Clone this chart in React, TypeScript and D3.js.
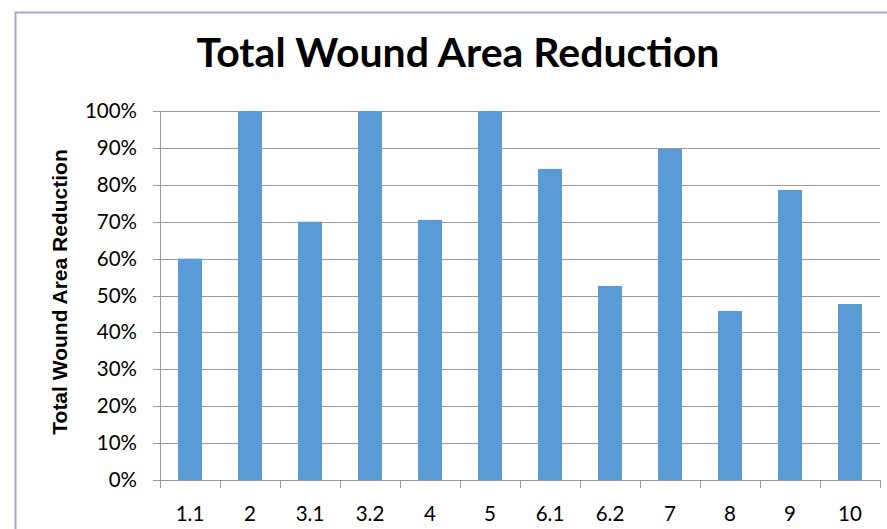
import React from "react";
import * as d3 from "d3";

const categories = ["1.1", "2", "3.1", "3.2", "4", "5", "6.1", "6.2", "7", "8", "9", "10"];
const values = [0.6, 1.0, 0.7, 1.0, 0.705, 1.0, 0.843, 0.526, 0.897, 0.458, 0.786, 0.477];
const yTicks = [0, 0.1, 0.2, 0.3, 0.4, 0.5, 0.6, 0.7, 0.8, 0.9, 1.0];

const W = 887;
const H = 529;
const left = 160;
const right = 880;
const top = 111;
const bottom = 480;
const font = "Lato, 'Open Sans', sans-serif";

export default function App() {
  const x = d3.scaleBand<string>().domain(categories).range([left, right]).paddingInner(0.6).paddingOuter(0.3);
  const xb = d3.scaleBand<string>().domain(categories).range([left, right]);
  const y = d3.scaleLinear().domain([0, 1]).range([bottom, top]);
  const fmt = d3.format(".0%");
  return (
    <svg width={W} height={H} style={{ position: "absolute", left: 0, top: 0 }}>
      <rect x={0} y={0} width={W} height={H} fill="#fff" />
      <rect x={15.5} y={12.5} width={W} height={H} fill="none" stroke="#a9a3d6" strokeWidth={2} />
      <text x={458} y={67} textAnchor="middle" fontFamily={font} fontWeight="bold" fontSize={41} fill="#000">
        Total Wound Area Reduction
      </text>
      {yTicks.map((t) => (
        <g key={t}>
          <line x1={left - 7} x2={right} y1={Math.round(y(t)) + 0.5} y2={Math.round(y(t)) + 0.5} stroke="#9b9b9b" strokeWidth={1} />
          <text x={137} y={y(t) + 7} textAnchor="end" fontFamily={font} fontSize={20.5} fill="#000">
            {fmt(t)}
          </text>
        </g>
      ))}
      <line x1={left + 0.5} x2={left + 0.5} y1={top} y2={bottom} stroke="#9b9b9b" />
      {categories.map((c, i) => (
        <rect key={c} x={x(c)} y={y(values[i])} width={x.bandwidth()} height={bottom - y(values[i])} fill="#5b9bd5" />
      ))}
      {categories.map((c) => (
        <line key={"t" + c} x1={Math.round((xb(c) as number) + xb.bandwidth()) + 0.5} x2={Math.round((xb(c) as number) + xb.bandwidth()) + 0.5} y1={bottom} y2={bottom + 8} stroke="#9b9b9b" />
      ))}
      <line x1={left + 0.5} x2={left + 0.5} y1={bottom} y2={bottom + 8} stroke="#9b9b9b" />
      {categories.map((c) => (
        <text key={"l" + c} x={(xb(c) as number) + xb.bandwidth() / 2} y={521} textAnchor="middle" fontFamily={font} fontSize={20.5} fill="#000">
          {c}
        </text>
      ))}
      <text transform={`translate(67,292) rotate(-90)`} textAnchor="middle" fontFamily="'Liberation Sans', Arial, sans-serif" fontWeight="bold" fontSize={21} fill="#000">
        Total Wound Area Reduction
      </text>
    </svg>
  );
}
